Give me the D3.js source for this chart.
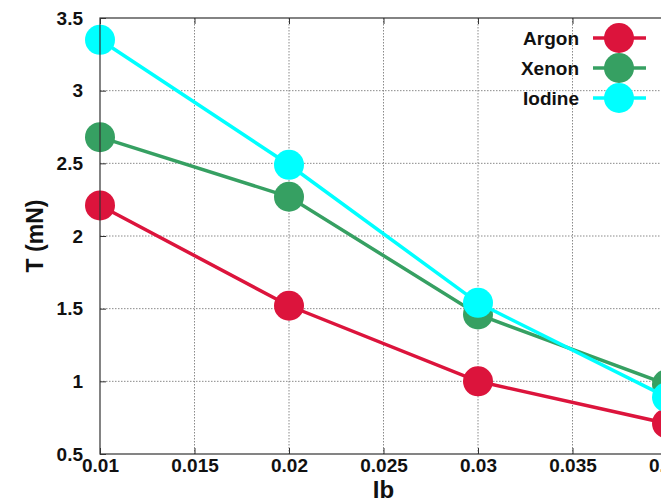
<!DOCTYPE html>
<html>
<head>
<meta charset="utf-8">
<script src="https://cdn.jsdelivr.net/npm/d3@7"></script>
<style>
  body { margin: 0; background: #fff; }
  svg { display: block; font-family: "Liberation Sans", Arial, sans-serif; font-weight: bold; }
</style>
</head>
<body>
<svg id="chart" width="661" height="502"></svg>
<script>

// Data
const ibValues = [0.01, 0.02, 0.03, 0.04];
const argon = [2.21, 1.52, 1.0, 0.71];
const xenon = [2.68, 2.27, 1.46, 0.98];
const iodine = [3.35, 2.49, 1.54, 0.89];
const seriesNames = ["Argon", "Xenon", "Iodine"];
const seriesColours = ["#dc143c", "#36a062", "#00ffff"];
const xTicks = [0.01, 0.015, 0.02, 0.025, 0.03, 0.035, 0.04];
const yTicks = [0.5, 1, 1.5, 2, 2.5, 3, 3.5];

const seriesValues = [argon, xenon, iodine];

// Plot area (right edge runs off the picture, as in the reference)
const plotLeft = 100, plotRight = 667, plotTop = 18, plotBottom = 454;

const svg = d3.select("#chart");

const x = d3.scaleLinear().domain([0.01, 0.04]).range([plotLeft, plotRight]);
const y = d3.scaleLinear().domain([0.5, 3.5]).range([plotBottom, plotTop]);

// Grid
const grid = svg.append("g")
    .attr("stroke", "#8a8a8a")
    .attr("stroke-width", 1)
    .attr("stroke-dasharray", "1.5,1.5");
grid.selectAll("line.vx")
    .data(xTicks.slice(1, -1))
    .enter().append("line")
    .attr("x1", (d) => x(d)).attr("x2", (d) => x(d))
    .attr("y1", plotTop).attr("y2", plotBottom);
grid.selectAll("line.hy")
    .data(yTicks.slice(1, -1))
    .enter().append("line")
    .attr("x1", plotLeft).attr("x2", plotRight)
    .attr("y1", (d) => y(d)).attr("y2", (d) => y(d));

// Series: line, then points
const line = d3.line()
    .x((d, i) => x(ibValues[i]))
    .y((d) => y(d));

seriesValues.forEach((vals, s) => {
    const g = svg.append("g");
    g.append("path")
        .datum(vals)
        .attr("d", line)
        .attr("fill", "none")
        .attr("stroke", seriesColours[s])
        .attr("stroke-width", 3.5);
    g.selectAll("circle")
        .data(vals)
        .enter().append("circle")
        .attr("cx", (d, i) => x(ibValues[i]))
        .attr("cy", (d) => y(d))
        .attr("r", 15)
        .attr("fill", seriesColours[s]);
});

// Axes (gnuplot style: inward ticks, mirrored)
svg.append("rect")
    .attr("x", plotLeft).attr("y", plotTop)
    .attr("width", plotRight - plotLeft).attr("height", plotBottom - plotTop)
    .attr("fill", "none")
    .attr("stroke", "#333").attr("stroke-width", 1.2);

const styleTicks = (g) => g.selectAll(".tick text")
    .attr("fill", "#111").attr("font-size", 19).attr("font-weight", "bold")
    .attr("font-family", "'Liberation Sans', Arial, sans-serif");

svg.append("g")
    .attr("transform", `translate(0,${plotBottom})`)
    .call(d3.axisBottom(x).tickValues(xTicks).tickSizeInner(-6).tickSizeOuter(0).tickPadding(5)
        .tickFormat((d) => String(+d.toFixed(3))))
    .call((g) => g.select(".domain").remove())
    .call((g) => g.selectAll(".tick line").attr("stroke", "#333"))
    .call(styleTicks);

svg.append("g")
    .attr("transform", `translate(0,${plotTop})`)
    .call(d3.axisTop(x).tickValues(xTicks).tickSizeInner(-6).tickSizeOuter(0).tickFormat(""))
    .call((g) => g.select(".domain").remove())
    .call((g) => g.selectAll(".tick line").attr("stroke", "#333"));

svg.append("g")
    .attr("transform", `translate(${plotLeft},0)`)
    .call(d3.axisLeft(y).tickValues(yTicks).tickSizeInner(-6).tickSizeOuter(0).tickPadding(17)
        .tickFormat((d) => String(d)))
    .call((g) => g.select(".domain").remove())
    .call((g) => g.selectAll(".tick line").attr("stroke", "#333"))
    .call(styleTicks);

// Axis titles
svg.append("text")
    .attr("x", x(0.025))
    .attr("y", 498)
    .attr("text-anchor", "middle")
    .attr("font-size", 24)
    .attr("fill", "#111")
    .text("Ib");

svg.append("text")
    .attr("transform", `translate(43,236) rotate(-90)`)
    .attr("text-anchor", "middle")
    .attr("font-size", 23)
    .attr("fill", "#111")
    .text("T (mN)");

// Legend
const legend = svg.append("g");
seriesNames.forEach((name, s) => {
    const ly = 38 + s * 30;
    legend.append("text")
        .attr("x", 579).attr("y", ly)
        .attr("dy", "0.35em")
        .attr("text-anchor", "end")
        .attr("font-size", 19)
        .attr("fill", "#111")
        .text(name);
    legend.append("line")
        .attr("x1", 593).attr("x2", 646)
        .attr("y1", ly).attr("y2", ly)
        .attr("stroke", seriesColours[s])
        .attr("stroke-width", 3.5);
    legend.append("circle")
        .attr("cx", 619).attr("cy", ly)
        .attr("r", 15)
        .attr("fill", seriesColours[s]);
});

</script>
</body>
</html>
